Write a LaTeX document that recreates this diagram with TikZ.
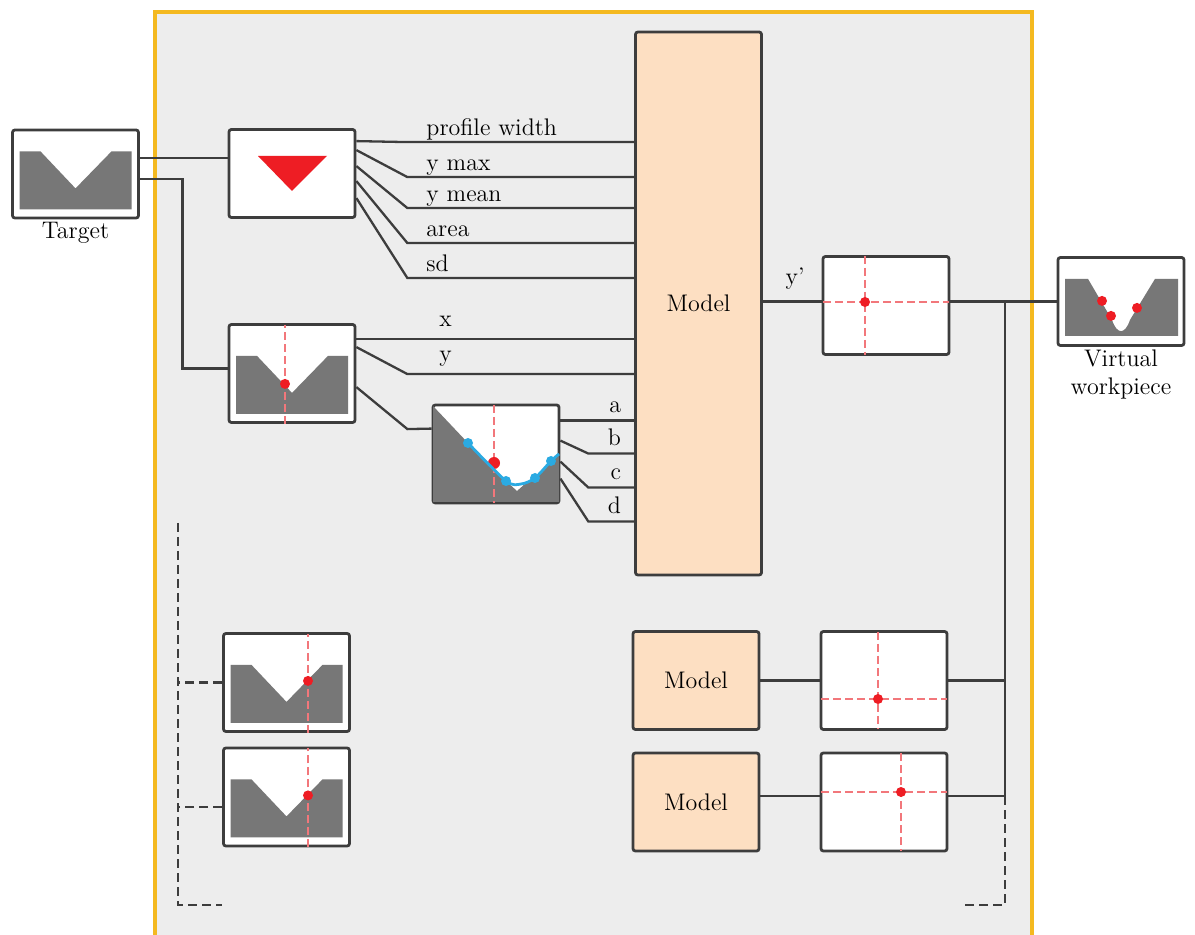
\documentclass[tikz,border=0pt]{standalone}
\usepackage{amsmath}
\usetikzlibrary{calc,positioning}

\definecolor{frameyellow}{HTML}{F4B920}
\definecolor{panelgray}{HTML}{EDEDED}
\definecolor{wirecol}{HTML}{3D3D3D}
\definecolor{peach}{HTML}{FDDFC2}
\definecolor{metal}{HTML}{777777}
\definecolor{probered}{HTML}{EE1D24}
\definecolor{dashred}{HTML}{F2777B}
\definecolor{fitblue}{HTML}{2AAAE2}

\tikzset{every node/.style={align=center}, font=\fontsize{12}{14}\selectfont}
% grey V-groove profile, drawn from the bottom of its box
\tikzset{vgroove/.pic={\fill[metal] (-56,-10) -- (-56,-68) -- (-35,-68) -- (0,-31) -- (36,-68) -- (56,-68) -- (56,-10) -- cycle;}}

\begin{document}
\begin{tikzpicture}[x=0.5pt, y=-0.5pt,
    box/.style={draw=wirecol, fill=white, line width=1.4pt, rounded corners=1.2pt,
                minimum width=63pt, minimum height=49pt, inner sep=0pt},
    flatbox/.style={box, minimum height=44pt},
    modelbox/.style={box, fill=peach},
    wire/.style={draw=wirecol, line width=1.15pt},
    dashwire/.style={wire, dash pattern=on 4.5pt off 2.5pt},
    probe/.style={draw=dashred, line width=1pt, dash pattern=on 4pt off 2pt}]
\useasboundingbox (0,0) rectangle (1195,935);

% frame of the processing stage
\fill[panelgray] (155,12) rectangle (1032,935);
\draw[frameyellow, line width=1.8pt] (155,935) -- (155,12) -- (1032,12) -- (1032,935);

% boxes
\node[flatbox] (target) at (75.5,174) {};
\node (targetlbl) [below=-2pt of target] {Target};
\node[flatbox] (feat) at (292,173.5) {};
\node[box] (pos) at (292,373.5) {};
\node[box] (fit) at (496,454) {};
\node[modelbox, minimum height=271.5pt] (model) at (698.5,303.5) {Model};
\node[box] (yout) at (886,305.5) {};
\node[flatbox] (virt) at (1121,301.5) {};
\node (virtlbl) [below=-2pt of virt] {Virtual\\workpiece};

\node[box] (posA) at (286.5,682.5) {};
\node[box] (posB) at (286.5,797) {};
\node[modelbox] (modelA) at (696,680.5) {Model};
\node[modelbox] (modelB) at (696,802) {Model};
\node[box] (outA) at (884,680.5) {};
\node[box] (outB) at (884,802) {};

% box contents
\pic at (target.south) {vgroove};
\fill[probered] ($(feat.center)+(-34,-17.5)$) -- ($(feat.center)+(35,-17.5)$) -- ($(feat.center)+(0,17.5)$) -- cycle;

\begin{scope}[shift={(pos.south)}]
  \pic {vgroove};
  \draw[probe] (-7,0) -- (-7,-99);
  \fill[probered] (-7,-40) circle (5);
\end{scope}

\foreach \p in {posA,posB}{
  \begin{scope}[shift={(\p.south)}]
    \pic {vgroove};
    \draw[probe] (21.5,0) -- (21.5,-99);
    \fill[probered] (21.5,-52) circle (5);
  \end{scope}
}

\begin{scope}[shift={(fit.center)}]
  \fill[metal] (-63,-48) -- (-28,-11) -- (10,27) -- (21,37) -- (30,29) -- (39,24) -- (55,7) -- (63,-1) -- (63,48) -- (-63,48) -- cycle;
  \draw[probe] (-2,-49) -- (-2,49);
  \fill[probered] (-2,9) circle (6);
  \draw[fitblue, line width=1.4pt] plot[smooth] coordinates {(-28,-11) (10,27) (25,30) (39,24) (55,7) (63,0)};
  \foreach \q in {(-28,-11),(10,27),(39,24),(55,7)}
    \fill[fitblue] \q circle (5);
\end{scope}

\begin{scope}[shift={(yout.center)}]
  \draw[probe] (-21,-49.5) -- (-21,49.5) (-63,-3.5) -- (63,-3.5);
  \fill[probered] (-21,-3.5) circle (5);
\end{scope}
\begin{scope}[shift={(outA.center)}]
  \draw[probe] (-6,-48.5) -- (-6,48.5) (-63,18.5) -- (63,18.5);
  \fill[probered] (-6,18.5) circle (5);
\end{scope}
\begin{scope}[shift={(outB.center)}]
  \draw[probe] (17,-49) -- (17,49) (-63,-10) -- (63,-10);
  \fill[probered] (17,-10) circle (5);
\end{scope}

\begin{scope}[shift={(virt.south)}]
  \fill[metal] (-56,-11) -- (-56,-68) -- (-33,-68) -- (-9,-27) .. controls (-4,-12) and (4,-12) .. (9,-27)
    -- (34,-68) -- (57,-68) -- (57,-11) -- cycle;
  \foreach \q in {(-19,-46),(-10,-31),(16,-39)}
    \fill[probered] \q circle (5);
\end{scope}

% target to extractors
\draw[wire] ($(target.east)+(0,-16)$) coordinate (t1) -- (t1 -| feat.west);
\draw[wire] ($(target.east)+(0,5)$) -| ($(pos.west)+(-45,-5)$) -- ($(pos.west)+(0,-5)$);

% profile features
\foreach \ya/\yb/\txt in {13/14/profile width, 22/49/y max, 38/80/y mean, 53/115/area, 70/150/sd}{
  \draw[wire] ($(feat.north east)+(0,\ya)$) -- ($(feat.north east)+(51,\yb)$) coordinate (k) -- (k -| model.west);
  \node[anchor=base west] (f\ya) at ($(k)+(12,-7)$) {\txt};
}

% point coordinates
\foreach \ya/\yb/\txt in {16/16/x, 24/51/y}{
  \draw[wire] ($(pos.north east)+(0,\ya)$) -- ($(pos.north east)+(51,\yb)$) coordinate (k) -- (k -| model.west);
  \node[anchor=base west] (p\ya) at ($(k)+(25,-13)$) {\txt};
}
\draw[wire] ($(pos.north east)+(0,64)$) -- ($(pos.north east)+(51,106)$) -- ($(fit.north west)+(0,25)$);

% fit coefficients
\foreach \ya/\yb/\txt in {17/17/a, 37/50/b, 58/84/c, 75/118/d}{
  \draw[wire] ($(fit.north east)+(0,\ya)$) -- ($(fit.north east)+(28,\yb)$) coordinate (k) -- (k -| model.west);
  \node[anchor=base east] (c\ya) at ($(k -| model.west)+(-6,-8)$) {\txt};
}

% outputs
\draw[wire] (model.east |- virt.west) -- node[above, pos=0.55, yshift=2pt] (ylbl) {y'} (yout.west |- virt.west);
\draw[wire] (yout.east |- virt.west) -- (virt.west);
\draw[wire] (modelA) -- (outA);
\draw[wire] ($(modelB.east)+(0,-6)$) -- ($(outB.west)+(0,-6)$);

\coordinate (bustop) at (1005,301.5);
\coordinate (busend) at (1005,905);
\coordinate (busstub) at (962,905);
\draw[wire] (bustop) -- (bustop |- outB.east);
\draw[wire] (outA.east) -- (outA.east -| bustop);
\draw[wire] ($(outB.east)+(0,-6)$) coordinate (o2) -- (o2 -| bustop);
\draw[dashwire] (o2 -| bustop) -- (busend) -- (busstub);

\coordinate (lbtop) at (178,523);
\coordinate (lbend) at (178,905);
\coordinate (lbstub) at (222,905);
\draw[dashwire] (lbtop) -- (lbend) -- (lbstub);
\draw[dashwire] (posA.west) -- (posA.west -| lbtop);
\draw[dashwire] ($(posB.west)+(0,10)$) coordinate (l2) -- (l2 -| lbtop);
\end{tikzpicture}
\end{document}
